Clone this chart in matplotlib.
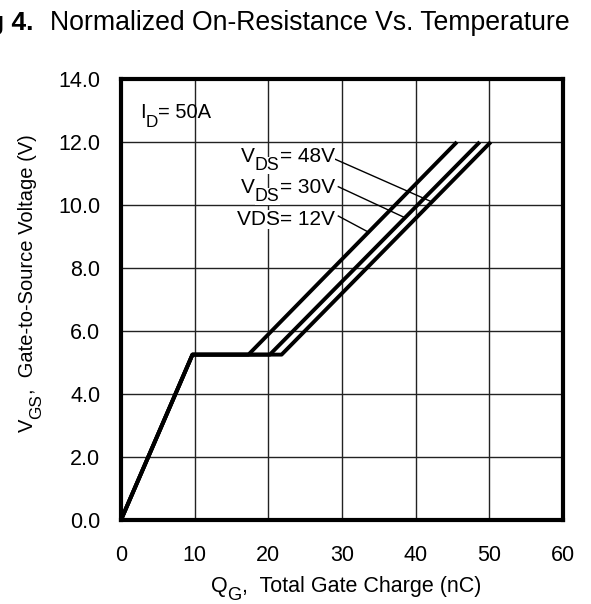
import matplotlib
matplotlib.use("Agg")
import matplotlib.pyplot as plt
import numpy as np

plt.rcParams["font.family"] = ["Liberation Sans", "DejaVu Sans"]

# gate charge curves, I_D = 50A
vds_labels = ["48V", "30V", "12V"]
qg_knee = 9.7
vgs_plateau = 5.25
qg_plateau_end = [17.3, 20.2, 21.8]
qg_top = [45.6, 48.7, 50.2]
vgs_top = 12.0

x_ticks = [0, 10, 20, 30, 40, 50, 60]
y_ticks = [0.0, 2.0, 4.0, 6.0, 8.0, 10.0, 12.0, 14.0]

# label text (right end, baseline), leader start, leader target (curve index, Q)
label_pos = [(29.0, 11.37), (29.0, 10.39), (29.0, 9.37)]
leader_start = [(29.1, 11.45), (29.5, 10.58), (29.5, 9.65)]
leader_target = [(2, 42.2), (1, 38.55), (0, 33.6)]

FS = 15.5
SUB = 0.85
DROP = 6


def sub_label_right(ax, x, y, main, sub, rest, size, box=False):
    # build "main_sub rest" from right to left, with big dropped subscript
    kw = dict(va="baseline", ha="right", zorder=5, annotation_clip=False)
    if box:
        kw["bbox"] = dict(facecolor="white", edgecolor="none", pad=0)
    t3 = ax.annotate(rest, xy=(x, y), xycoords="data", fontsize=size, **kw)
    t2 = ax.annotate(sub, xy=(0, y), xycoords=(t3, "data"), xytext=(0, -DROP),
                     textcoords="offset points", fontsize=size * SUB, **kw)
    ax.annotate(main, xy=(0, y), xycoords=(t2, "data"), fontsize=size, **kw)


def sub_label_left(ax, x, y, main, sub, rest, size, coords="data"):
    kw = dict(va="baseline", ha="left", zorder=5, annotation_clip=False)
    t1 = ax.annotate(main, xy=(x, y), xycoords=coords, fontsize=size, **kw)
    t2 = ax.annotate(sub, xy=(1, y), xycoords=(t1, coords), xytext=(0, -DROP),
                     textcoords="offset points", fontsize=size * SUB, **kw)
    ax.annotate(rest, xy=(1, y), xycoords=(t2, coords), fontsize=size, **kw)


def sub_label_up(ax, x, y, main, sub, rest, size):
    # rotated 90 degrees, x is baseline position in figure fraction
    kw = dict(ha="left", va="baseline", rotation=90, rotation_mode="anchor",
              annotation_clip=False)
    t1 = ax.annotate(main, xy=(x, y), xycoords="figure fraction", fontsize=size, **kw)
    t2 = ax.annotate(sub, xy=(x, 1), xycoords=("figure fraction", t1), xytext=(DROP, 0),
                     textcoords="offset points", fontsize=size * SUB, **kw)
    ax.annotate(rest, xy=(x, 1), xycoords=("figure fraction", t2), fontsize=size, **kw)


fig = plt.figure(figsize=(5.91, 6.04), dpi=100)
ax = fig.add_axes([121 / 591, 1 - 520 / 604, 442 / 591, 441 / 604])

curves = []
for pe, qt in zip(qg_plateau_end, qg_top):
    qx = [0, qg_knee, pe, qt]
    vy = [0, vgs_plateau, vgs_plateau, vgs_top]
    curves.append((qx, vy))
    ax.plot(qx, vy, color="black", lw=2.8, solid_capstyle="butt", zorder=4)

ax.set_xlim(0, 60)
ax.set_ylim(0, 14)
ax.set_xticks(x_ticks)
ax.set_yticks(y_ticks)
ax.set_xticklabels([str(v) for v in x_ticks])
ax.set_yticklabels([f"{v:.1f}" for v in y_ticks])
ax.tick_params(length=0, labelsize=FS)
ax.tick_params(axis="x", pad=18)
ax.tick_params(axis="y", pad=15)
ax.grid(True, color="#222222", lw=1.0)
ax.set_axisbelow(True)
for s in ax.spines.values():
    s.set_linewidth(3)

sub_label_left(ax, 2.6, 12.75, "I", "D", "= 50A", 14.5)

for k, ((tx, ty), (sx, sy), (ci, q)) in enumerate(zip(label_pos, leader_start, leader_target)):
    if k < 2:
        sub_label_right(ax, tx, ty, "V", "DS", "= " + vds_labels[k], 15, box=True)
    else:
        ax.text(tx, ty, "VDS= " + vds_labels[k], fontsize=15, ha="right", va="baseline",
                zorder=5, bbox=dict(facecolor="white", edgecolor="none", pad=0))
    qx, vy = curves[ci]
    v = np.interp(q, qx[2:], vy[2:])
    ax.plot([sx, q], [sy, v], color="black", lw=1.0, zorder=3)

sub_label_up(ax, 33 / 591, 1 - 432 / 604, "V", "GS", ",  Gate-to-Source Voltage (V)", 14.5)
sub_label_left(ax, 211 / 591, 1 - 592 / 604, "Q", "G", ",  Total Gate Charge (nC)", FS,
               coords="figure fraction")

fig.text(33 / 591, 1 - 23 / 604, "g 4.", fontweight="bold", ha="right", va="center", fontsize=19)
fig.text(50 / 591, 1 - 23 / 604, "Normalized On-Resistance Vs. Temperature",
         ha="left", va="center", fontsize=19.2)

fig.savefig("out.png", dpi=100)
